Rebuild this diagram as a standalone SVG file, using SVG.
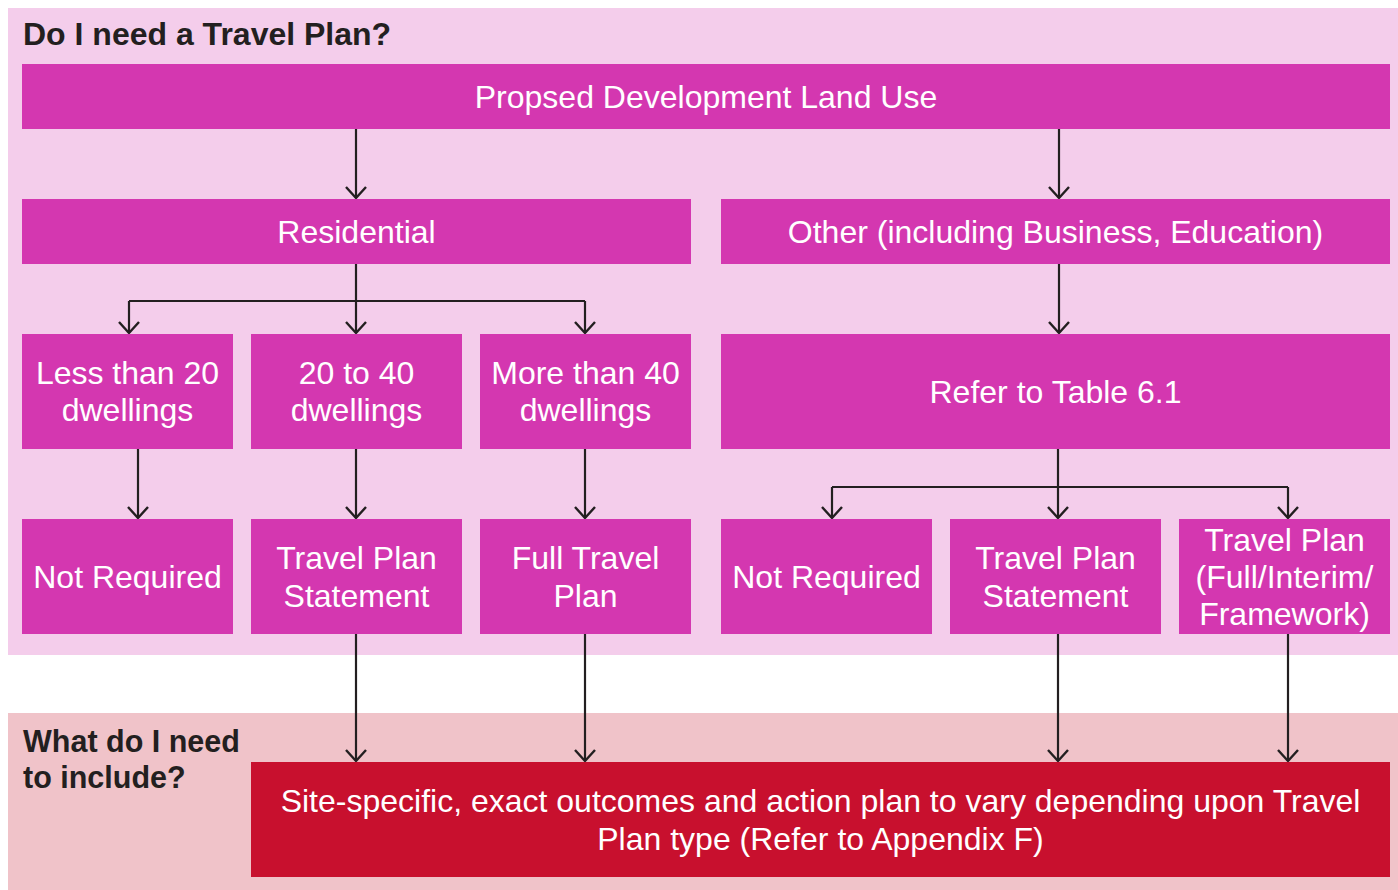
<svg xmlns="http://www.w3.org/2000/svg" width="1398" height="890" viewBox="0 0 1398 890">
<defs>
<style>
.node{fill:#d437b0}
.t{font-family:"Liberation Sans",Arial,sans-serif;font-size:32px;fill:#ffffff;text-anchor:middle}
.h{font-family:"Liberation Sans",Arial,sans-serif;font-size:30.5px;font-weight:bold;fill:#231f20}
.c{fill:none;stroke:#231f20;stroke-width:2.2;marker-end:url(#arr)}
.l{fill:none;stroke:#231f20;stroke-width:2.2}
</style>
<marker id="arr" markerUnits="userSpaceOnUse" markerWidth="26" markerHeight="26" refX="13" refY="13" orient="auto" viewBox="0 0 26 26">
<path d="M2,3 L13,13 L2,23" fill="none" stroke="#231f20" stroke-width="2.4"/>
</marker>
</defs>
<rect x="0" y="0" width="1398" height="890" fill="#ffffff"/>
<rect id="panel-top" x="8" y="8" width="1390" height="647" fill="#f4cdeb"/>
<rect id="panel-bottom" x="8" y="713" width="1390" height="177" fill="#f0c3c9"/>
<text class="h" x="23" y="45" style="font-size:32px">Do I need a Travel Plan?</text>
<text class="h" x="23" y="752">What do I need</text>
<text class="h" x="23" y="788">to include?</text>

<g id="connectors">
<path class="c" d="M356,129 V198"/>
<path class="c" d="M1059,129 V198"/>
<path class="l" d="M356,264 V301"/>
<path class="l" d="M129,301 H585"/>
<path class="c" d="M129,301 V333"/>
<path class="c" d="M356,301 V333"/>
<path class="c" d="M585,301 V333"/>
<path class="c" d="M1059,264 V333"/>
<path class="l" d="M1058,449 V487"/>
<path class="l" d="M832,487 H1288"/>
<path class="c" d="M832,487 V518"/>
<path class="c" d="M1058,487 V518"/>
<path class="c" d="M1288,487 V518"/>
<path class="c" d="M138,449 V518"/>
<path class="c" d="M356,449 V518"/>
<path class="c" d="M585,449 V518"/>
<path class="c" d="M356,634 V761"/>
<path class="c" d="M585,634 V761"/>
<path class="c" d="M1058,634 V761"/>
<path class="c" d="M1288,634 V761"/>
</g>

<g id="n-landuse"><rect class="node" x="22" y="64" width="1368" height="65"/><text class="t" x="706" y="108">Propsed Development Land Use</text></g>
<g id="n-residential"><rect class="node" x="22" y="199" width="669" height="65"/><text class="t" x="356.5" y="243">Residential</text></g>
<g id="n-other"><rect class="node" x="721" y="199" width="669" height="65"/><text class="t" x="1055.5" y="243">Other (including Business, Education)</text></g>

<g id="n-less20"><rect class="node" x="22" y="334" width="211" height="115"/><text class="t" x="127.5" y="384">Less than 20</text><text class="t" x="127.5" y="421">dwellings</text></g>
<g id="n-20to40"><rect class="node" x="251" y="334" width="211" height="115"/><text class="t" x="356.5" y="384">20 to 40</text><text class="t" x="356.5" y="421">dwellings</text></g>
<g id="n-more40"><rect class="node" x="480" y="334" width="211" height="115"/><text class="t" x="585.5" y="384">More than 40</text><text class="t" x="585.5" y="421">dwellings</text></g>
<g id="n-table"><rect class="node" x="721" y="334" width="669" height="115"/><text class="t" x="1055.5" y="403">Refer to Table 6.1</text></g>

<g id="n-notreq1"><rect class="node" x="22" y="519" width="211" height="115"/><text class="t" x="127.5" y="588">Not Required</text></g>
<g id="n-tps1"><rect class="node" x="251" y="519" width="211" height="115"/><text class="t" x="356.5" y="569">Travel Plan</text><text class="t" x="356.5" y="607">Statement</text></g>
<g id="n-full"><rect class="node" x="480" y="519" width="211" height="115"/><text class="t" x="585.5" y="569">Full Travel</text><text class="t" x="585.5" y="607">Plan</text></g>
<g id="n-notreq2"><rect class="node" x="721" y="519" width="211" height="115"/><text class="t" x="826.5" y="588">Not Required</text></g>
<g id="n-tps2"><rect class="node" x="950" y="519" width="211" height="115"/><text class="t" x="1055.5" y="569">Travel Plan</text><text class="t" x="1055.5" y="607">Statement</text></g>
<g id="n-tpfull"><rect class="node" x="1179" y="519" width="211" height="115"/><text class="t" x="1284.5" y="551">Travel Plan</text><text class="t" x="1284.5" y="588">(Full/Interim/</text><text class="t" x="1284.5" y="625">Framework)</text></g>

<g id="n-outcome"><rect x="251" y="762" width="1139" height="115" fill="#c8102e"/><text class="t" x="820.5" y="812">Site-specific, exact outcomes and action plan to vary depending upon Travel</text><text class="t" x="820.5" y="850">Plan type (Refer to Appendix F)</text></g>
</svg>
